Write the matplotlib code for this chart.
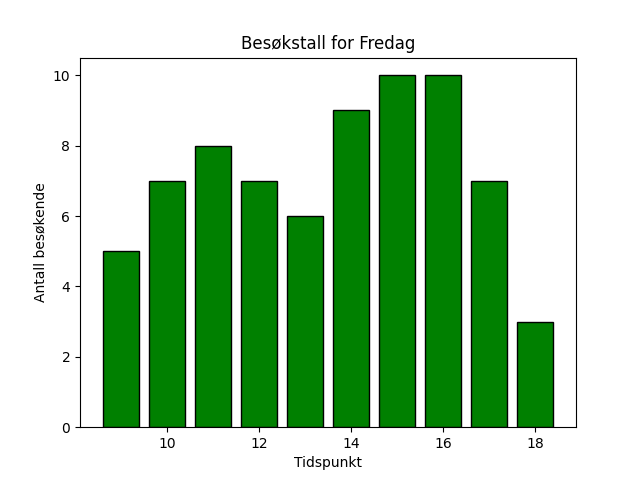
import matplotlib
matplotlib.use("Agg")
import matplotlib.pyplot as plt

# Besøkstall per time
tidspunkt = [9, 10, 11, 12, 13, 14, 15, 16, 17, 18]
besokende = [5, 7, 8, 7, 6, 9, 10, 10, 7, 3]

fig, ax = plt.subplots(figsize=(6.4, 4.8), dpi=100)
ax.bar(tidspunkt, besokende, color="green", edgecolor="black")

ax.set_title("Besøkstall for Fredag")
ax.set_xlabel("Tidspunkt")
ax.set_ylabel("Antall besøkende")

fig.savefig("out.png")
